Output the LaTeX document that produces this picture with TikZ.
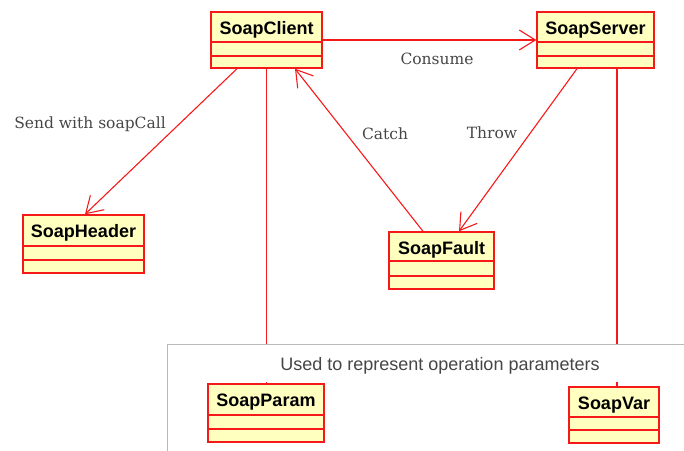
\documentclass[tikz,border=0pt]{standalone}
\usepackage{fontspec}
\setmainfont{Liberation Sans}
\newfontfamily\lblfont{DejaVu Serif}
\usetikzlibrary{arrows.meta,fit}
\definecolor{umlred}{RGB}{245,25,25}
\definecolor{umlfill}{RGB}{255,255,192}
\definecolor{txtgray}{RGB}{70,70,70}
\definecolor{framegray}{RGB}{185,185,185}
\tikzset{
  clsbox/.style={draw=umlred, fill=umlfill, line width=1.4pt, inner sep=0pt},
  clsline/.style={draw=umlred, line width=1.2pt},
  clsname/.style={anchor=base, inner sep=0pt, font=\bfseries\fontsize{18}{20}\selectfont},
  assoc/.style={draw=umlred, line width=1.1pt},
  navarrow/.style={assoc, -{Straight Barb[length=16pt,width=20pt,line width=1.1pt]}},
  edgelabel/.style={anchor=base, inner sep=0pt, text=txtgray, font=\lblfont\fontsize{15.5}{17}\selectfont},
}
% class box: name, title, x1, y1, x2, y2, first divider, second divider
\newcommand\umlclass[8]{%
  \coordinate (#1-nw) at (#3,#4);
  \coordinate (#1-se) at (#5,#6);
  \node[clsbox, fit=(#1-nw)(#1-se)] (#1) {};
  \draw[clsline] (#3,#7) -- (#5,#7);
  \draw[clsline] (#3,#8) -- (#5,#8);
  \node[clsname] (#1-title) at ({(#3+#5)/2},{#4+22.5}) {#2};
}
\begin{document}
\begin{tikzpicture}[x=1pt,y=-1pt]
\useasboundingbox (0,0) rectangle (684,450);

% classes
\umlclass{client}{SoapClient}{211}{12}{322}{68}{42}{56}
\umlclass{server}{SoapServer}{537}{12}{654}{68}{42}{56}
\umlclass{header}{SoapHeader}{23}{215}{144}{273}{246}{260}
\umlclass{fault}{SoapFault}{389}{232}{494}{289}{261}{276}

% associations
\draw[navarrow] (client.east) -- (server.west);
\draw[navarrow] ([xshift=-29.5pt]client.south) -- ([xshift=1.5pt]header.north);
\draw[navarrow] ([xshift=-18.5pt]server.south) -- ([xshift=17.5pt]fault.north);
\draw[navarrow] ([xshift=-18.5pt]fault.north) -- ([xshift=28.5pt]client.south);

\node[edgelabel] (lconsume) at (437,64) {Consume};
\node[edgelabel] (lsend) at (90,128.3) {Send with soapCall};
\node[edgelabel] (lcatch) at (385,139.5) {Catch};
\node[edgelabel] (lthrow) at (492,138) {Throw};

% parameter classes and their links
\umlclass{param}{SoapParam}{208}{384}{324}{442}{415}{429}
\umlclass{var}{SoapVar}{569}{387}{659}{443}{417}{430}
\draw[assoc] (client.south) -- (client.south |- param.north);
\draw[assoc] ([xshift=21.5pt]server.south) -- ([xshift=21.5pt]server.south |- var.north);

% frame grouping the parameter classes
\fill[white] (168,344.6) rectangle (700,381.5);
\draw[framegray, line width=0.9pt] (700,344) -- (167,344) -- (167,460);
\node[anchor=base, inner sep=0pt, text=txtgray, font=\fontsize{18}{20}\selectfont] (frametitle) at (440,370.7) {Used to represent operation parameters};
\end{tikzpicture}
\end{document}
